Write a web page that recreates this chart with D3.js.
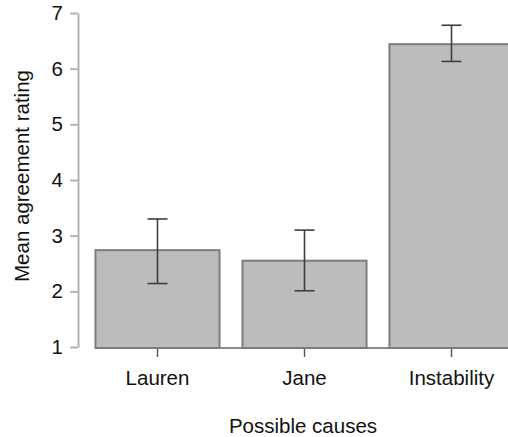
<!DOCTYPE html>
<html lang="en">
<head>
<meta charset="utf-8">
<title>Possible causes</title>
<script src="https://d3js.org/d3.v7.min.js"></script>
<style>
  body { margin: 0; background: #fff; }
  svg { display: block; }
  text { font-family: "Liberation Sans", Arial, Helvetica, sans-serif; fill: #111; }
</style>
</head>
<body>
<div id="chart"></div>
<script>
  // values
  var causes = ["Lauren", "Jane", "Instability"];
  var means = [2.74, 2.55, 6.44];
  var errLow = [2.14, 2.01, 6.13];
  var errHigh = [3.30, 3.10, 6.78];
  var yTicks = [1, 2, 3, 4, 5, 6, 7];

  var width = 508, height = 437;

  var svg = d3.select("#chart")
    .append("svg")
      .attr("width", width)
      .attr("height", height)

  var y = d3.scaleLinear().domain([1, 7]).range([347, 13]);

  var x = d3.scaleBand()
    .domain(causes)
    .range([84, 525])
    .paddingInner(0.156)
    .paddingOuter(0.078);

  var rows = causes.map(function(c, i) {
    return { name: c, mean: means[i], lo: errLow[i], hi: errHigh[i] };
  });

  // y axis
  var yAxis = svg.append("g")
    .attr("transform", "translate(78,0)")
    .call(d3.axisLeft(y).tickValues(yTicks).tickFormat(d3.format("d"))
      .tickSize(8).tickPadding(7).tickSizeOuter(0));
  yAxis.select(".domain").attr("stroke", "#b3b3b3").attr("stroke-width", 2);
  yAxis.selectAll(".tick line").attr("stroke", "#b3b3b3").attr("stroke-width", 2);
  yAxis.selectAll(".tick text")
    .style("font-size", "20.5px")
    .attr("fill", "#111");

  // baseline
  svg.append("line")
    .attr("x1", x(causes[0]))
    .attr("x2", width)
    .attr("y1", y(1) + 1)
    .attr("y2", y(1) + 1)
    .attr("stroke", "#8a8a8a")
    .attr("stroke-width", 2);

  // bars
  svg.selectAll(".bar")
    .data(rows)
    .enter().append("rect")
      .attr("class", "bar")
      .attr("x", function(d){ return x(d.name); })
      .attr("y", function(d){ return y(d.mean); })
      .attr("width", x.bandwidth())
      .attr("height", function(d){ return y(1) - y(d.mean) + 1; })
      .attr("fill", "#bcbcbe")
      .attr("stroke", "#7c7c7c")
      .attr("stroke-width", 2);

  // error bars
  var err = svg.selectAll(".err")
    .data(rows)
    .enter().append("g")
      .attr("class", "err")
      .attr("transform", function(d){ return "translate(" + (x(d.name) + x.bandwidth() / 2) + ",0)"; })
      .attr("stroke", "#3e3e3e")
      .attr("stroke-width", 1.6);
  err.append("line")
    .attr("y1", function(d){ return y(d.lo); })
    .attr("y2", function(d){ return y(d.hi); });
  err.append("line")
    .attr("x1", -10).attr("x2", 10)
    .attr("y1", function(d){ return y(d.hi); })
    .attr("y2", function(d){ return y(d.hi); });
  err.append("line")
    .attr("x1", -10).attr("x2", 10)
    .attr("y1", function(d){ return y(d.lo); })
    .attr("y2", function(d){ return y(d.lo); });

  // x axis (ticks and labels only)
  var xAxis = svg.append("g")
    .attr("transform", "translate(0," + (y(1) + 2) + ")")
    .call(d3.axisBottom(x).tickSize(8).tickPadding(13).tickSizeOuter(0));
  xAxis.select(".domain").remove();
  xAxis.selectAll(".tick line").attr("stroke", "#555").attr("stroke-width", 1.4);
  xAxis.selectAll(".tick text")
    .style("font-size", "20.5px")
    .attr("fill", "#111");

  // axis titles
  svg.append("text")
    .attr("x", 303)
    .attr("y", 433)
    .attr("text-anchor", "middle")
    .style("font-size", "20.5px")
    .text("Possible causes");

  svg.append("text")
    .attr("transform", "translate(29,176) rotate(-90)")
    .attr("text-anchor", "middle")
    .style("font-size", "20.5px")
    .text("Mean agreement rating");
</script>
</body>
</html>
